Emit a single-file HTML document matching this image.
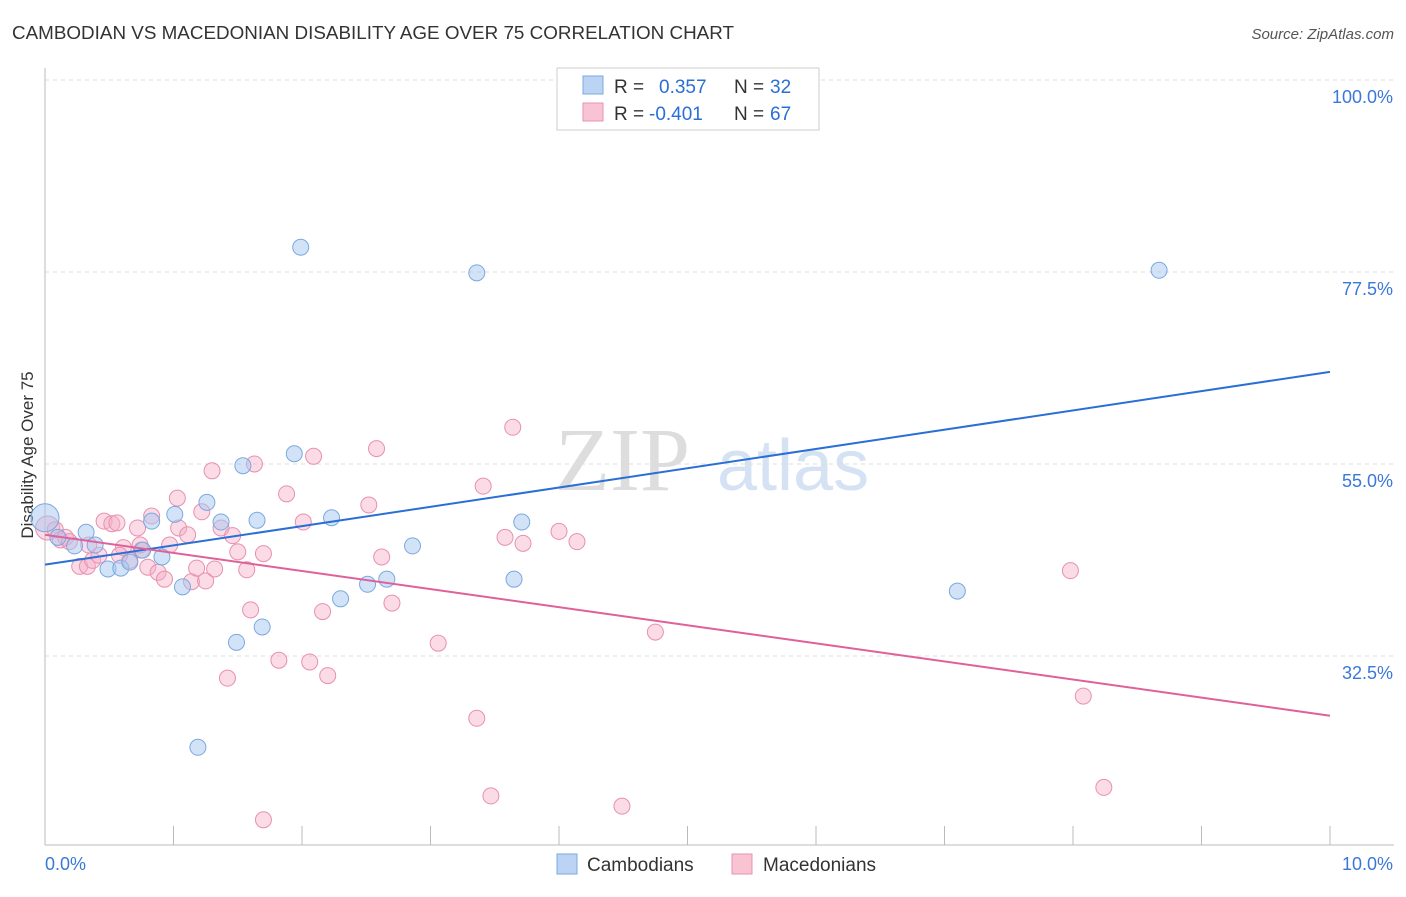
<!DOCTYPE html>
<html><head><meta charset="utf-8"><style>
body{margin:0;background:#fff;font-family:"Liberation Sans",sans-serif;}
svg text{font-family:"Liberation Sans",sans-serif;}
</style></head><body>
<svg id="chart" width="1406" height="892" xmlns="http://www.w3.org/2000/svg">
<text x="12" y="39" font-size="18" fill="#333" textLength="722" lengthAdjust="spacingAndGlyphs">CAMBODIAN VS MACEDONIAN DISABILITY AGE OVER 75 CORRELATION CHART</text>
<text x="1394" y="39" font-size="15" fill="#555" text-anchor="end" font-style="italic">Source: ZipAtlas.com</text>
<text x="555" y="490" font-size="90" fill="#ddd" font-family="Liberation Serif" style="font-family:'Liberation Serif',serif">ZIP</text>
<text x="717" y="490" font-size="72" fill="#d4e2f4">atlas</text>
<text transform="translate(33,455) rotate(-90)" font-size="17" fill="#333" text-anchor="middle">Disability Age Over 75</text>
<g id="grid"></g><g id="pts"></g><g id="lines"></g>
<g>
<rect x="557" y="68" width="262" height="62" fill="#fff" stroke="#ccc"/>
<rect x="583" y="76" width="20" height="18" fill="#bcd4f4" stroke="#7aa8e0"/>
<rect x="583" y="103" width="20" height="18" fill="#f8c4d4" stroke="#e890b0"/>
<text x="614" y="93" font-size="19" fill="#333">R =</text>
<text x="659" y="93" font-size="19" fill="#2a6fd6">0.357</text>
<text x="734" y="93" font-size="19" fill="#333">N =</text>
<text x="770" y="93" font-size="19" fill="#2a6fd6">32</text>
<text x="614" y="120" font-size="19" fill="#333">R =</text>
<text x="649" y="120" font-size="19" fill="#2a6fd6">-0.401</text>
<text x="734" y="120" font-size="19" fill="#333">N =</text>
<text x="770" y="120" font-size="19" fill="#2a6fd6">67</text>
</g>
<g>
<rect x="557" y="854" width="20" height="20" fill="#bcd4f4" stroke="#7aa8e0"/>
<text x="587" y="871" font-size="19" fill="#333">Cambodians</text>
<rect x="732" y="854" width="20" height="20" fill="#f8c4d4" stroke="#e890b0"/>
<text x="763" y="871" font-size="19" fill="#333">Macedonians</text>
</g>
</svg>
<script>
const yTicks=[100,77.5,55,32.5];
const yTickLabels=["100.0%","77.5%","55.0%","32.5%"];
const xTicks=[0,1,2,3,4,5,6,7,8,9,10];
const xTickLabels=["0.0%","10.0%"];
const blueX=[0.00,0.10,0.23,0.32,0.39,0.49,0.59,0.66,0.76,0.83,0.91,1.01,1.07,1.19,1.26,1.37,1.49,1.54,1.65,1.69,1.94,1.99,2.23,2.30,2.51,2.66,2.86,3.36,3.65,3.71,7.10,8.67];
const blueY=[48.7,46.4,45.4,47.0,45.5,42.7,42.8,43.5,44.9,48.3,44.1,49.1,40.6,21.8,50.5,48.2,34.1,54.8,48.4,35.9,56.2,80.4,48.7,39.2,40.9,41.5,45.4,77.4,41.5,48.2,40.1,77.7];
const pinkX=[0.02,0.08,0.12,0.16,0.19,0.27,0.33,0.37,0.42,0.46,0.52,0.56,0.61,0.66,0.72,0.75,0.80,0.83,0.88,0.93,0.97,1.03,1.04,1.11,1.14,1.18,1.22,1.25,1.30,1.32,1.37,1.46,1.50,1.57,1.60,1.63,1.70,1.70,1.42,1.82,1.88,2.01,2.06,2.09,2.16,2.20,2.52,2.58,2.62,2.70,3.06,3.36,3.41,3.47,3.58,3.64,3.72,4.00,4.14,4.49,4.75,7.98,8.08,8.24,0.34,0.58,0.74];
const pinkY=[47.5,47.3,46.1,46.4,45.9,43.0,43.0,43.7,44.3,48.3,48.0,48.1,45.2,43.7,47.5,44.9,42.9,48.9,42.3,41.5,45.5,51.0,47.5,46.7,41.2,42.8,49.4,41.3,54.2,42.7,47.5,46.6,44.7,42.6,37.9,55.0,44.5,13.3,29.9,32.0,51.5,48.2,31.8,55.9,37.7,30.2,50.2,56.8,44.1,38.7,34.0,25.2,52.4,16.1,46.4,59.3,45.7,47.1,45.9,14.9,35.3,42.5,27.8,17.1,45.5,44.3,45.5];
const blueTrend=[43.2,65.8];
const pinkTrend=[46.7,25.5];
const X=v=>45+v*128.5, Y=v=>80+(100-v)*8.533;
const NS="http://www.w3.org/2000/svg";
function mk(tag,attrs,parent,txt){const e=document.createElementNS(NS,tag);for(const k in attrs)e.setAttribute(k,attrs[k]);if(txt!==undefined)e.textContent=txt;document.getElementById(parent).appendChild(e);return e;}
yTicks.forEach((t,i)=>{
 const l=mk('line',{x1:45,x2:1394,y1:Y(t),y2:Y(t),stroke:'#ddd','stroke-dasharray':'4,4'},'grid');
 
 
 const tx=mk('text',{x:1393,y:Y(t)+23,'font-size':18,fill:'#3a78d8','text-anchor':'end'},'grid',yTickLabels[i]);
 
 
});
const ax=mk('line',{x1:45,x2:45,y1:68,y2:845,stroke:'#bbb'},'grid');


const bx=mk('line',{x1:45,x2:1394,y1:845,y2:845,stroke:'#bbb'},'grid');


xTicks.forEach(t=>{
 const l=mk('line',{x1:X(t),x2:X(t),y1:826,y2:845,stroke:'#bbb'},'grid');
 
 
});
const xl0=mk('text',{x:45,y:870,'font-size':18,fill:'#3a78d8'},'grid',xTickLabels[0]);


const xl1=mk('text',{x:1393,y:870,'font-size':18,fill:'#3a78d8','text-anchor':'end'},'grid',xTickLabels[1]);


pinkX.forEach((x,i)=>{
 const c=mk('circle',{cx:X(x),cy:Y(pinkY[i]),r:i===0?12:8,fill:'rgba(244,176,200,0.45)',stroke:'#e890b0','stroke-width':1},'pts');
 
 
});
blueX.forEach((x,i)=>{
 const c=mk('circle',{cx:X(x),cy:Y(blueY[i]),r:i===0?14:8,fill:'rgba(168,200,240,0.5)',stroke:'#7aa8e0','stroke-width':1},'pts');
 
 
});
const bl=mk('line',{x1:X(0),y1:Y(blueTrend[0]),x2:X(10),y2:Y(blueTrend[1]),stroke:'#2a6fd6','stroke-width':2},'lines');


const pl=mk('line',{x1:X(0),y1:Y(pinkTrend[0]),x2:X(10),y2:Y(pinkTrend[1]),stroke:'#e0609a','stroke-width':2},'lines');


</script>
</body></html>
